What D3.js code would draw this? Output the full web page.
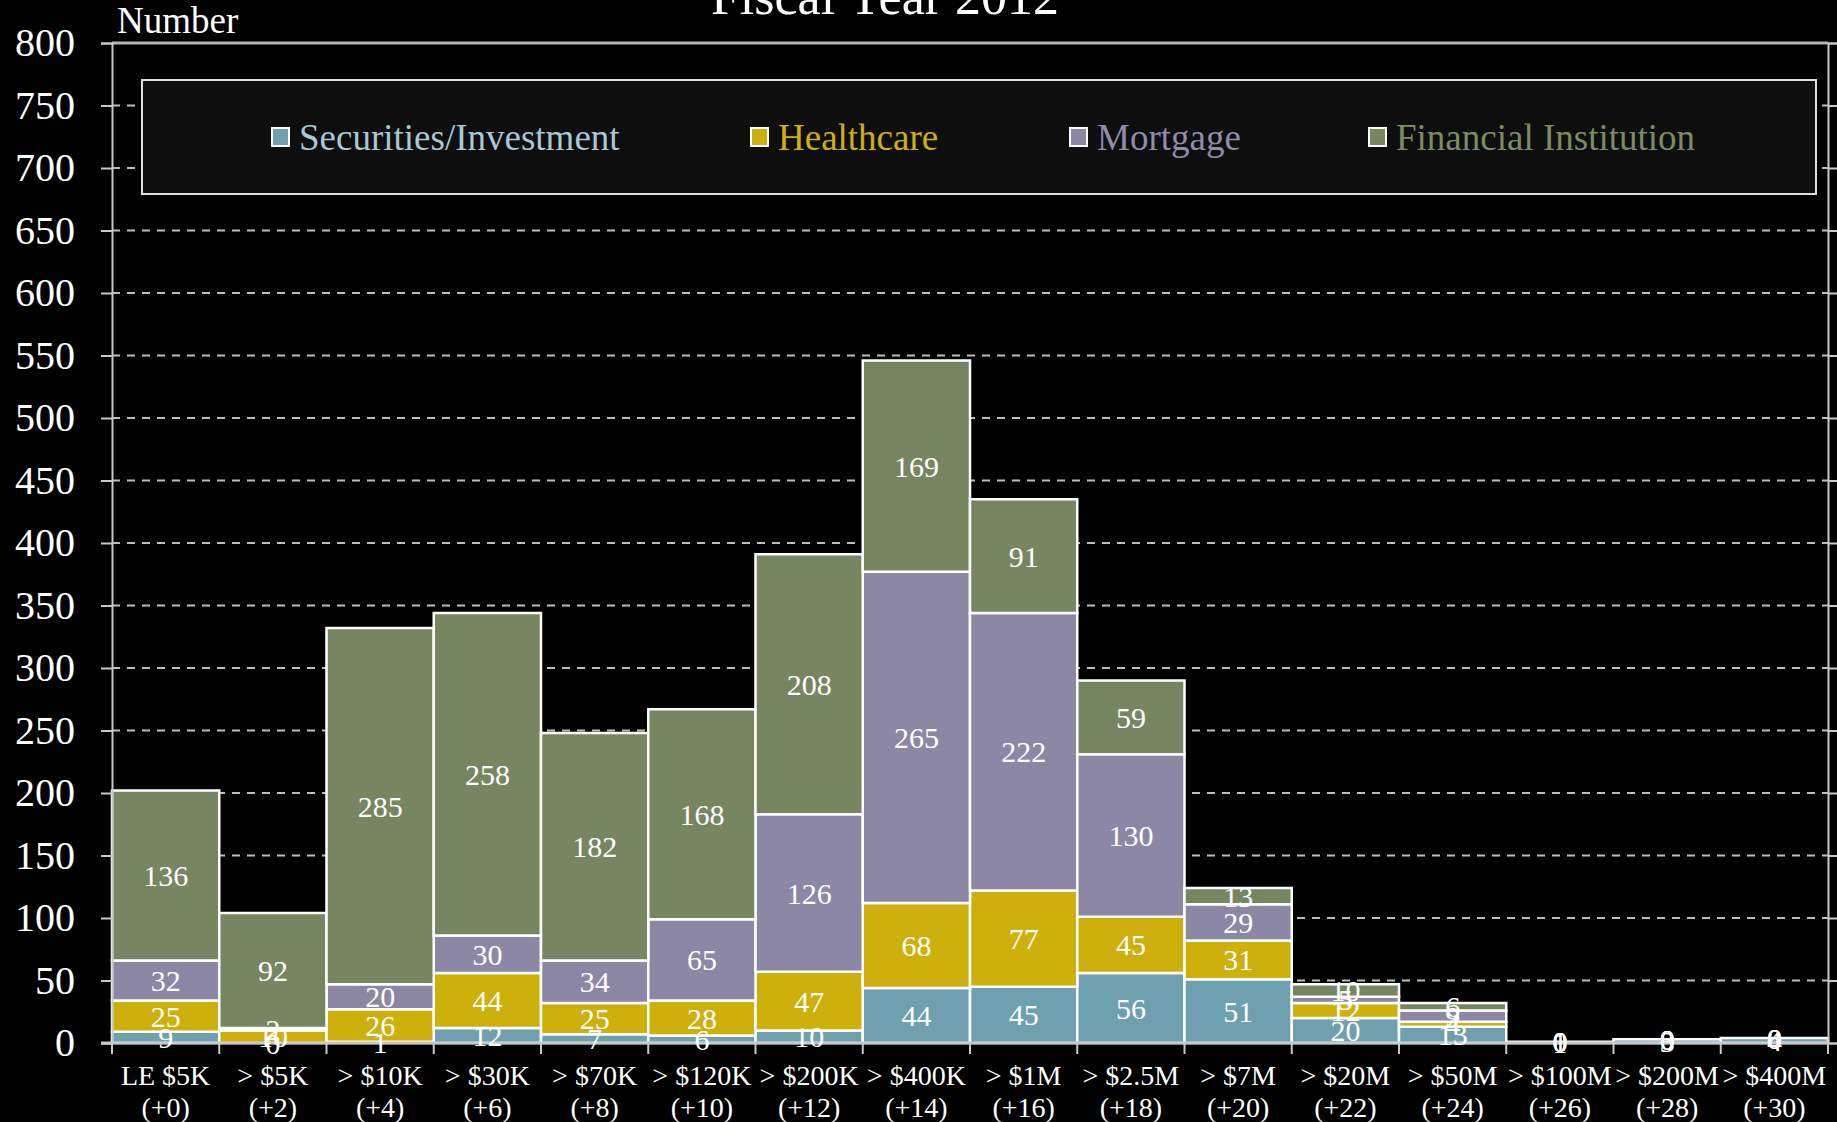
<!DOCTYPE html>
<html>
<head>
<meta charset="utf-8">
<script src="https://cdn.jsdelivr.net/npm/d3@7/dist/d3.min.js"></script>
<style>
  html, body { margin: 0; padding: 0; background: #000; }
  svg { display: block; }
  text { font-family: "Liberation Serif", "Times New Roman", serif; }
</style>
</head>
<body>
<svg id="chart" width="1837" height="1122"></svg>
<script>
const categories = ["LE $5K", "> $5K", "> $10K", "> $30K", "> $70K", "> $120K", "> $200K", "> $400K",
  "> $1M", "> $2.5M", "> $7M", "> $20M", "> $50M", "> $100M", "> $200M", "> $400M"];
const subLabels = ["(+0)", "(+2)", "(+4)", "(+6)", "(+8)", "(+10)", "(+12)", "(+14)",
  "(+16)", "(+18)", "(+20)", "(+22)", "(+24)", "(+26)", "(+28)", "(+30)"];
const seriesNames = ["Securities/Investment", "Healthcare", "Mortgage", "Financial Institution"];
const securities = [9, 0, 1, 12, 7, 6, 10, 44, 45, 56, 51, 20, 13, 1, 3, 4];
const healthcare = [25, 10, 26, 44, 25, 28, 47, 68, 77, 45, 31, 12, 4, 0, 0, 0];
const mortgage   = [32, 2, 20, 30, 34, 65, 126, 265, 222, 130, 29, 5, 9, 0, 0, 0];
const financial  = [136, 92, 285, 258, 182, 168, 208, 169, 91, 59, 13, 10, 6, 0, 0, 0];
const yTicks = [0, 50, 100, 150, 200, 250, 300, 350, 400, 450, 500, 550, 600, 650, 700, 750, 800];

const fills = ["#6fa0b0", "#cdb00c", "#8c87a5", "#768660"];
const textColors = ["#a8c8d2", "#cfb00e", "#908ba9", "#7b8c62"];
const seriesArrays = [securities, healthcare, mortgage, financial];

const svg = d3.select("#chart");
const W = 1837, H = 1122;
const m = { left: 112, right: 1828, top: 43, bottom: 1043 };

const table = categories.map((c, i) => {
  const o = { cat: c };
  seriesNames.forEach((s, k) => o[s] = seriesArrays[k][i]);
  return o;
});
const stacked = d3.stack().keys(seriesNames)(table);

const x = d3.scaleBand().domain(categories).range([m.left, m.right]).padding(0);
const y = d3.scaleLinear().domain([0, 800]).range([m.bottom, m.top]);

svg.append("rect").attr("width", W).attr("height", H).attr("fill", "#000");

// gridlines
const grid = svg.append("g");
grid.selectAll("line.g").data(yTicks.filter(t => t > 0 && t < 800)).join("line")
  .attr("x1", m.left).attr("x2", m.right)
  .attr("y1", d => y(d)).attr("y2", d => y(d))
  .attr("stroke", "#bdbdbd").attr("stroke-width", 2).attr("stroke-dasharray", "8,7");
grid.append("line").attr("x1", m.left).attr("x2", m.right)
  .attr("y1", y(800)).attr("y2", y(800))
  .attr("stroke", "#b5b5b5").attr("stroke-width", 3);

// legend box
const lg = svg.append("g");
lg.append("rect").attr("x", 142).attr("y", 80).attr("width", 1674).attr("height", 114)
  .attr("fill", "#0e0e0e").attr("stroke", "#e0e0e0").attr("stroke-width", 2);
const legendX = [272, 751, 1070, 1369];
seriesNames.forEach((s, k) => {
  lg.append("rect").attr("x", legendX[k]).attr("y", 128).attr("width", 17).attr("height", 18)
    .attr("fill", fills[k]).attr("stroke", "#fff").attr("stroke-width", 2);
  lg.append("text").attr("x", legendX[k] + 27).attr("y", 150)
    .attr("font-size", 37).attr("fill", textColors[k]).text(s);
});

// bars
const barG = svg.append("g");
stacked.forEach((layer, k) => {
  barG.selectAll(null).data(layer).join("rect")
    .attr("x", d => x(d.data.cat))
    .attr("width", x.bandwidth())
    .attr("y", d => y(d[1]))
    .attr("height", d => y(d[0]) - y(d[1]))
    .attr("fill", fills[k])
    .attr("stroke", "#fff").attr("stroke-width", 2.5);
});

// axes
const yAxis = d3.axisLeft(y).tickValues(yTicks).tickSize(11).tickPadding(26).tickFormat(d3.format("d"));
const ya = svg.append("g").attr("transform", `translate(${m.left},0)`).call(yAxis);
ya.select(".domain").attr("stroke", "#c8c8c8").attr("stroke-width", 2);
ya.selectAll(".tick line").attr("stroke", "#c8c8c8").attr("stroke-width", 2);
ya.selectAll(".tick text").attr("fill", "#fff").attr("font-size", 40)
  .attr("font-family", "Liberation Serif, Times New Roman, serif");

const yAxisR = d3.axisRight(y).tickValues(yTicks).tickSize(11).tickFormat("");
const yr = svg.append("g").attr("transform", `translate(${m.right},0)`).call(yAxisR);
yr.select(".domain").attr("stroke", "#c8c8c8").attr("stroke-width", 2);
yr.selectAll(".tick line").attr("stroke", "#c8c8c8").attr("stroke-width", 2);

const bounds = categories.map(c => x(c)).concat([m.right]);
const xa = svg.append("g");
xa.append("line").attr("x1", m.left - 11).attr("x2", m.right).attr("y1", m.bottom).attr("y2", m.bottom)
  .attr("stroke", "#c8c8c8").attr("stroke-width", 3);
xa.selectAll("line.t").data(bounds).join("line")
  .attr("x1", d => d).attr("x2", d => d)
  .attr("y1", m.bottom).attr("y2", m.bottom + 11)
  .attr("stroke", "#c8c8c8").attr("stroke-width", 2);
xa.selectAll("text.l1").data(categories).join("text")
  .attr("x", d => x(d) + x.bandwidth() / 2).attr("y", 1085)
  .attr("text-anchor", "middle").attr("font-size", 28).attr("fill", "#fff").text(d => d);
xa.selectAll("text.l2").data(subLabels).join("text")
  .attr("x", (d, i) => x(categories[i]) + x.bandwidth() / 2).attr("y", 1117)
  .attr("text-anchor", "middle").attr("font-size", 28).attr("fill", "#fff").text(d => d);

// value labels
const lblG = svg.append("g");
stacked.forEach((layer, k) => {
  lblG.selectAll(null).data(layer).join("text")
    .attr("x", d => x(d.data.cat) + x.bandwidth() / 2)
    .attr("y", d => y((d[0] + d[1]) / 2))
    .attr("dy", "0.35em")
    .attr("text-anchor", "middle").attr("font-size", 30).attr("fill", "#fff")
    .text(d => d[1] - d[0]);
});

// titles
svg.append("text").attr("x", 885).attr("y", 14).attr("text-anchor", "middle")
  .attr("font-size", 52).attr("fill", "#fff").text("Fiscal Year 2012");
svg.append("text").attr("x", 117).attr("y", 33)
  .attr("font-size", 37).attr("fill", "#fff").text("Number");
</script>
</body>
</html>
